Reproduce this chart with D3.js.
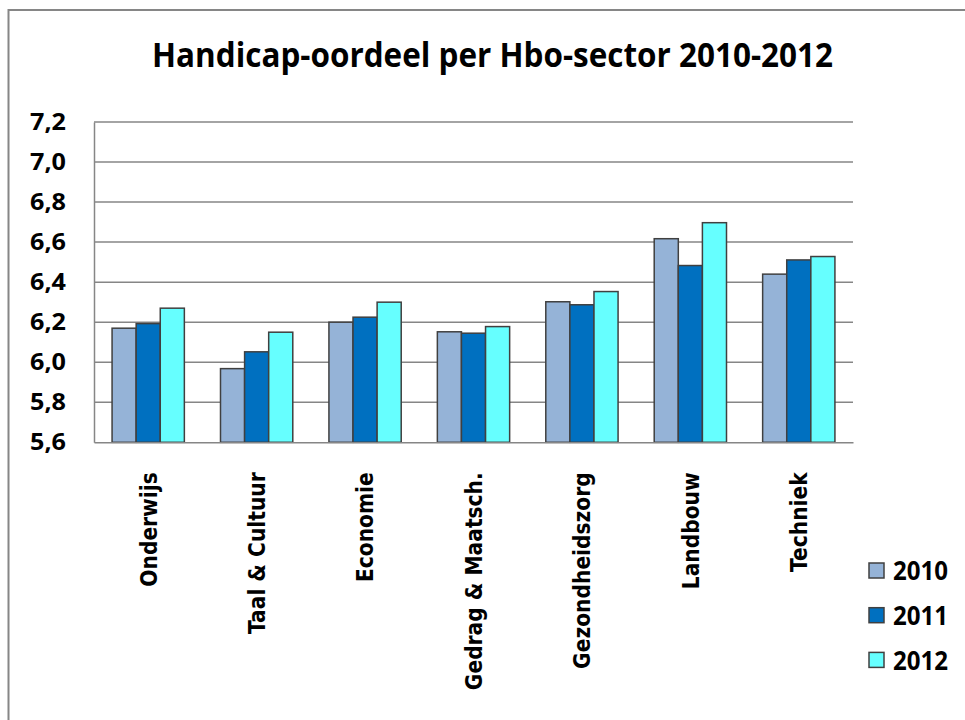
<!DOCTYPE html>
<html><head><meta charset="utf-8">
<script src="https://cdn.jsdelivr.net/npm/d3@7"></script>
<style>body{margin:0;background:#fff}svg{display:block}</style>
</head><body>
<svg id="c" width="965" height="720"></svg>
<script>
const title = "Handicap-oordeel per Hbo-sector 2010-2012";
const categories = ["Onderwijs","Taal & Cultuur","Economie","Gedrag & Maatsch.","Gezondheidszorg","Landbouw","Techniek"];
const years = ["2010","2011","2012"];
const values2010 = [6.17, 5.968, 6.20, 6.152, 6.302, 6.617, 6.44];
const values2011 = [6.193, 6.052, 6.225, 6.145, 6.287, 6.483, 6.511];
const values2012 = [6.27, 6.15, 6.30, 6.178, 6.353, 6.697, 6.528];
const yTicks = [5.6, 5.8, 6.0, 6.2, 6.4, 6.6, 6.8, 7.0, 7.2];
const colors = ["#95B3D7", "#0070C0", "#66FFFF"];

const series = [values2010, values2011, values2012];
const svg = d3.select("#c");
const M = {left: 94, right: 853, top: 122, bottom: 442.3};

// outer frame
svg.append("rect").attr("x", 8.5).attr("y", 10).attr("width", 1000).attr("height", 1000)
  .attr("fill", "none").attr("stroke", "#868686").attr("stroke-width", 2);

svg.append("text").attr("x", 492.5).attr("y", 67).attr("text-anchor", "middle")
  .attr("font-family", "'Open Sans', sans-serif").attr("font-weight", "bold").attr("font-size", 34)
  .attr("textLength", 681).attr("lengthAdjust", "spacingAndGlyphs").text(title);

const y = d3.scaleLinear().domain([5.6, 7.2]).range([M.bottom, M.top]);
const x = d3.scaleBand().domain(categories).range([M.left, M.right]).paddingInner(1/3).paddingOuter(1/6);
const xs = d3.scaleBand().domain(years).range([0, x.bandwidth()]);

// gridlines
svg.append("g").selectAll("line").data(yTicks.filter(t => t > 5.6)).join("line")
  .attr("x1", M.left).attr("x2", M.right).attr("y1", d => y(d)).attr("y2", d => y(d))
  .attr("stroke", "#868686").attr("stroke-width", 1.5);

// y axis
const yAxis = d3.axisLeft(y).tickValues(yTicks).tickSize(0).tickPadding(28)
  .tickFormat(d => d3.format(".1f")(d).replace(".", ","));
const ga = svg.append("g").attr("transform", `translate(${M.left},0)`).call(yAxis);
ga.select(".domain").attr("stroke", "#868686").attr("stroke-width", 1.5);
ga.selectAll("text").attr("font-family", "'Open Sans', sans-serif").attr("font-weight", "bold")
  .attr("font-size", 23).attr("fill", "#000").attr("textLength", 36).attr("lengthAdjust", "spacingAndGlyphs");

// bars
const groups = svg.append("g").selectAll("g").data(categories).join("g")
  .attr("transform", d => `translate(${x(d)},0)`);
groups.selectAll("rect").data((c, i) => years.map((yr, k) => ({yr, k, v: series[k][i]}))).join("rect")
  .attr("x", d => xs(d.yr)).attr("width", xs.bandwidth())
  .attr("y", d => y(d.v)).attr("height", d => y(5.6) - y(d.v))
  .attr("fill", d => colors[d.k]).attr("stroke", "#404040").attr("stroke-width", 1.5);

// x axis line + labels
const xAxis = d3.axisBottom(x).tickSize(0).tickSizeOuter(0);
const gx = svg.append("g").attr("transform", `translate(0,${M.bottom})`).call(xAxis);
gx.select(".domain").attr("stroke", "#868686").attr("stroke-width", 1.5);
gx.selectAll(".tick text")
  .attr("transform", "translate(0,30) rotate(-90) scale(0.88,1)")
  .attr("x", 0).attr("y", 0).attr("dy", "0.36em")
  .attr("text-anchor", "end")
  .attr("font-family", "'DejaVu Sans', sans-serif").attr("font-weight", "bold")
  .attr("font-size", 23).attr("fill", "#000");

// legend
const lg = svg.append("g").selectAll("g").data(years).join("g")
  .attr("transform", (d, i) => `translate(869,${570.5 + i * 44.7})`);
lg.append("rect").attr("x", 0).attr("y", -7.5).attr("width", 15).attr("height", 15)
  .attr("fill", (d, i) => colors[i]).attr("stroke", "#404040").attr("stroke-width", 1.5);
lg.append("text").attr("x", 24).attr("y", 0).attr("dy", "0.36em")
  .attr("font-family", "'Open Sans', sans-serif").attr("font-weight", "bold").attr("font-size", 27)
  .attr("textLength", 55).attr("lengthAdjust", "spacingAndGlyphs").text(d => d);
</script>
</body></html>
